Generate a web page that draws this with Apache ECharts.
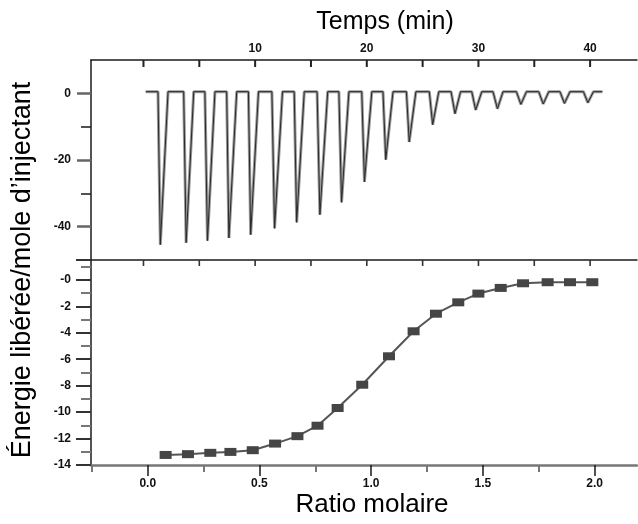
<!DOCTYPE html>
<html>
<head>
<meta charset="utf-8">
<script src="https://cdn.jsdelivr.net/npm/echarts@6/dist/echarts.min.js"></script>
<style>html,body{margin:0;padding:0;background:#fff;}#c{width:638px;height:524px;}</style>
</head>
<body>
<div id="c"></div>
<script>
// ---- data ----
const thermoTime = [0.2, 1.3, 1.51, 2.2, 3.6, 3.82, 4.5, 5.5, 5.73, 6.4, 7.45, 7.65, 8.35, 9.4, 9.6, 10.3, 11.5, 11.74, 12.45, 13.5, 13.72, 14.4, 15.55, 15.8, 16.5, 17.5, 17.74, 18.4, 19.55, 19.79, 20.45, 21.45, 21.7, 22.35, 23.55, 23.8, 24.4, 25.6, 25.9, 26.45, 27.55, 27.9, 28.4, 29.4, 29.75, 30.3, 31.3, 31.7, 32.2, 33.4, 33.8, 34.3, 35.4, 35.8, 36.3, 37.3, 37.7, 38.2, 39.4, 39.8, 40.3, 41.1];
const thermoPower = [0.5, 0.5, -45.4, 0.5, 0.5, -44.8, 0.5, 0.5, -44.2, 0.5, 0.5, -43.4, 0.5, 0.5, -42.4, 0.5, 0.5, -40.5, 0.5, 0.5, -38.7, 0.5, 0.5, -36.4, 0.5, 0.5, -32.7, 0.5, 0.5, -26.6, 0.5, 0.5, -19.9, 0.5, 0.5, -14.6, 0.5, 0.5, -9.4, 0.5, 0.5, -6.1, 0.5, 0.5, -5.0, 0.5, 0.5, -4.6, 0.5, 0.5, -3.3, 0.5, 0.5, -3.2, 0.5, 0.5, -3.0, 0.5, 0.5, -2.8, 0.5, 0.5];
const molarRatio = [0.08, 0.18, 0.28, 0.37, 0.47, 0.57, 0.67, 0.76, 0.85, 0.96, 1.08, 1.19, 1.29, 1.39, 1.48, 1.58, 1.68, 1.79, 1.89, 1.99];
const heatPerMole = [-13.24, -13.18, -13.08, -13.01, -12.88, -12.38, -11.82, -11.03, -9.69, -7.93, -5.78, -3.89, -2.56, -1.70, -1.04, -0.61, -0.26, -0.18, -0.18, -0.18];

const timeTicks = [0, 5, 10, 15, 20, 25, 30, 35, 40];
const timeLabels = [10, 20, 30, 40];
const ratioMajor = [0, 0.5, 1.0, 1.5, 2.0];
const ratioMinor = [-0.25, 0.25, 0.75, 1.25, 1.75];
const powerMajor = [0, -20, -40];
const powerMinor = [-10, -30];

const titleTop = 'Temps (min)';
const titleBottom = 'Ratio molaire';
const titleY = 'Énergie libérée/mole d\u2019injectant';

// ---- chart ----
const FONT = '"Liberation Sans", Arial, sans-serif';
const tickLbl = {fontFamily: FONT, fontSize: 12, fontWeight: 'bold', color: '#111'};
const dark = {color: '#1a1a1a', width: 1.5};
const TOP_MAX = 10, LOW_MAX = 1.5;

const chart = echarts.init(document.getElementById('c'), null, {renderer: 'canvas'});
chart.setOption({
  animation: false,
  backgroundColor: '#fff',
  grid: [
    {left: 91, top: 60, right: 1, height: 200},
    {left: 91, top: 260, right: 1, height: 205}
  ],
  xAxis: [
    {gridIndex: 0, type: 'value', position: 'top', min: -4.7, max: 44.2,
     axisLine: {show: true, onZero: false, lineStyle: dark},
     axisTick: {show: false},
     axisLabel: Object.assign({customValues: timeLabels, margin: 5}, tickLbl),
     splitLine: {show: false}},
    {gridIndex: 1, type: 'value', position: 'bottom', min: -0.254, max: 2.19,
     axisLine: {show: true, onZero: false, lineStyle: {color: '#777', width: 2.5}},
     axisTick: {show: true, length: 11, customValues: ratioMajor, lineStyle: dark},
     axisLabel: Object.assign({customValues: ratioMajor, margin: 13, formatter: v => Number(v).toFixed(1)}, tickLbl),
     splitLine: {show: false}},
    {gridIndex: 1, type: 'value', position: 'bottom', min: -0.254, max: 2.19,
     axisLine: {show: false, onZero: false},
     axisTick: {show: true, length: 7, customValues: ratioMinor, lineStyle: {color: '#777', width: 2}},
     axisLabel: {show: false}, splitLine: {show: false}},
    {gridIndex: 0, type: 'value', position: 'bottom', min: -4.7, max: 44.2,
     axisLine: {show: true, onZero: false, lineStyle: dark},
     axisTick: {show: false},
     axisLabel: {show: false}, splitLine: {show: false}},
    {gridIndex: 1, type: 'value', show: false, min: -4.7, max: 44.2}
  ],
  yAxis: [
    {gridIndex: 0, type: 'value', position: 'left', min: -50, max: TOP_MAX,
     axisLine: {show: true, onZero: false, lineStyle: dark},
     axisTick: {show: true, length: 14, customValues: powerMajor, lineStyle: {color: '#666', width: 2.5}},
     axisLabel: Object.assign({customValues: powerMajor, margin: 20}, tickLbl),
     splitLine: {show: false}},
    {gridIndex: 0, type: 'value', position: 'left', min: -50, max: TOP_MAX,
     axisLine: {show: false, onZero: false},
     axisTick: {show: true, length: 10, customValues: powerMinor, lineStyle: dark},
     axisLabel: {show: false}, splitLine: {show: false}},
    {gridIndex: 1, type: 'value', position: 'left', min: -14, max: LOW_MAX, interval: 2,
     axisLine: {show: true, onZero: false, lineStyle: dark},
     axisTick: {show: true, length: 15, lineStyle: {color: '#333', width: 2}},
     minorTick: {show: true, splitNumber: 2, length: 10, lineStyle: {color: '#777', width: 2}},
     axisLabel: Object.assign({margin: 20, showMaxLabel: false,
       formatter: v => (v > 0 ? '' : (v === 0 ? '-0' : String(v)))}, tickLbl),
     splitLine: {show: false}, minorSplitLine: {show: false}}
  ],
  series: [
    {type: 'line', xAxisIndex: 0, yAxisIndex: 0, showSymbol: false, symbol: 'none',
     data: thermoTime.map((t, i) => [t, thermoPower[i]]),
     lineStyle: {color: '#9a9a9a', width: 3}},
    {type: 'line', xAxisIndex: 0, yAxisIndex: 0, showSymbol: false, symbol: 'none',
     data: thermoTime.map((t, i) => [t, thermoPower[i]]),
     lineStyle: {color: '#2a2a2a', width: 1}},
    {type: 'line', xAxisIndex: 1, yAxisIndex: 2, symbol: 'rect', symbolSize: [12, 8],
     data: molarRatio.map((r, i) => [r, heatPerMole[i]]),
     itemStyle: {color: '#454545'},
     lineStyle: {color: '#555', width: 2}},
    // time-axis tick marks hanging from the top line of the upper panel
    {type: 'scatter', xAxisIndex: 0, yAxisIndex: 0, clip: false, silent: true,
     symbol: 'rect', symbolSize: [2, 7], symbolOffset: [0, 3.5],
     data: timeTicks.map(t => [t, TOP_MAX]),
     itemStyle: {color: '#222', opacity: 1}},
    // time-axis tick marks hanging from the separator into the lower panel
    {type: 'scatter', xAxisIndex: 4, yAxisIndex: 2, clip: false, silent: true,
     symbol: 'rect', symbolSize: [1.6, 6], symbolOffset: [0, 3],
     data: timeTicks.map(t => [t, LOW_MAX]),
     itemStyle: {color: '#333', opacity: 1}}
  ],
  graphic: [
    {type: 'text', x: 385, y: 22, silent: true,
     style: {text: titleTop, font: '25px ' + FONT, fill: '#000', align: 'center', verticalAlign: 'middle'}},
    {type: 'text', x: 372, y: 505, silent: true,
     style: {text: titleBottom, font: '26px ' + FONT, fill: '#000', align: 'center', verticalAlign: 'middle'}},
    {type: 'text', x: 23, y: 270, rotation: Math.PI / 2, silent: true,
     style: {text: titleY, font: '27px ' + FONT, fill: '#000', align: 'center', verticalAlign: 'middle'}}
  ]
});
</script>
</body>
</html>
